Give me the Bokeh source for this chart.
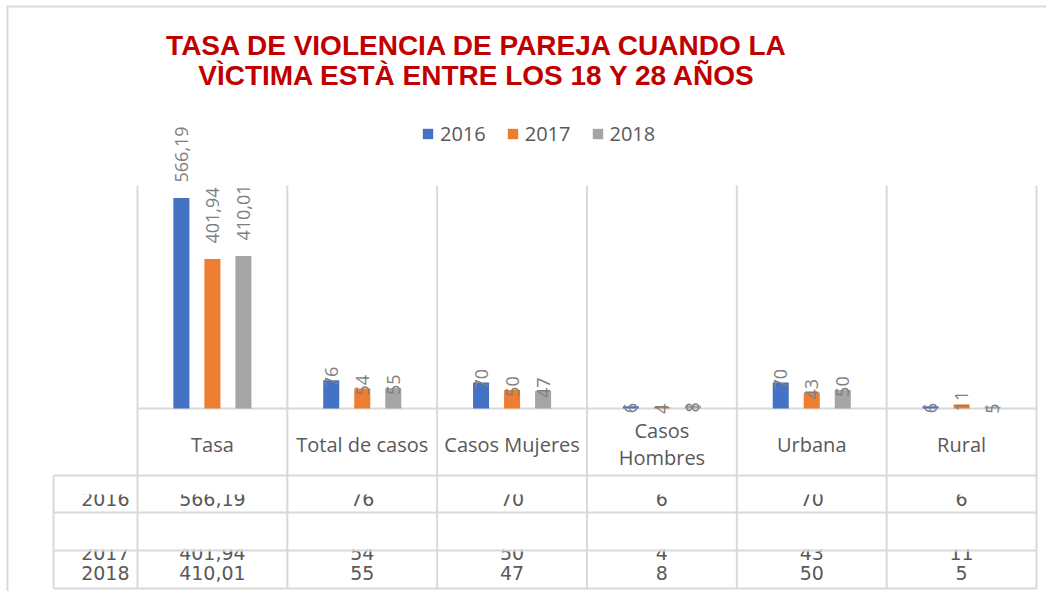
import numpy as np
from bokeh.plotting import figure
from bokeh.models import Range1d, ColumnDataSource, Legend, LegendItem
from bokeh.core.properties import value
from bokeh.embed import file_html
from bokeh.resources import INLINE

# ---------------- data ----------------
title_lines = ["TASA DE VIOLENCIA DE PAREJA CUANDO LA",
               "VÌCTIMA ESTÀ ENTRE LOS 18 Y 28 AÑOS"]
categories = ["Tasa", "Total de casos", "Casos Mujeres", "Casos Hombres", "Urbana", "Rural"]
tick_labels = ["Tasa", "Total de casos", "Casos Mujeres", "Casos\nHombres", "Urbana", "Rural"]
years = ["2016", "2017", "2018"]
v2016 = [566.19, 76, 70, 6, 70, 6]
v2017 = [401.94, 54, 50, 4, 43, 11]
v2018 = [410.01, 55, 47, 8, 50, 5]
series = [v2016, v2017, v2018]
colors = ["#4472C4", "#ED7D31", "#A5A5A5"]
y_max = 600


def fmt(v):
    if float(v) == int(v):
        return str(int(v))
    return f"{v:.2f}".replace(".", ",")


# ---------------- layout (page pixels) ----------------
M = 0
W, H = 1046, 591
plot_left, plot_right, plot_top, base = 137, 1036, 185, 408
table_left = 53
row_lines = [475, 512, 550, 588]
n = len(categories)
CW = (plot_right - plot_left) / n
s = (base - plot_top) / y_max


def fx(px):
    return (px - plot_left) / CW


def fy(py):
    return (base - py) / s


GRID = "#D9D9D9"
TXT = "#595959"

p = figure(width=W, height=H, x_range=Range1d(fx(M), fx(M + W)),
           y_range=Range1d(fy(M + H), fy(M)), output_backend="svg",
           toolbar_location=None, x_axis_location=None, y_axis_location=None,
           min_border=0)
p.grid.visible = False
p.outline_line_color = None
p.background_fill_color = "white"
p.border_fill_color = "white"

centers = np.arange(n) + 0.5

# ---------------- title ----------------
p.text(x=[fx(477)] * 2, y=[fy(45), fy(74.5)], text=title_lines,
       text_font=value("Liberation Sans"), text_font_style="bold",
       text_font_size="28px", text_color="#C00000",
       text_align="center", text_baseline="middle")

# ---------------- category labels ----------------
p.text(x=centers, y=[fy(443.5)] * n, text=tick_labels,
       text_font=value("Open Sans"), text_font_size="20px", text_color=TXT,
       text_align="center", text_baseline="middle", text_line_height=1.0)

# ---------------- data table ----------------
row_mid = [498, 552, 572]
tab_font = value("DejaVu Sans")
for yr, vals, rm in zip(years, series, row_mid):
    p.text(x=[fx(129)], y=[fy(rm)], text=[yr], text_font=tab_font,
           text_font_size="19px", text_color=TXT, text_align="right",
           text_baseline="middle")
    p.text(x=centers, y=[fy(rm)] * n, text=[fmt(v) for v in vals],
           text_font=tab_font, text_font_size="19px", text_color=TXT,
           text_align="center", text_baseline="middle")

# clipping of the table rows (as in the reference rendering)
p.quad(left=[fx(table_left + 1)] * 2, right=[n] * 2,
       top=[fy(476), fy(513)], bottom=[fy(494), fy(549)],
       fill_color="white", line_color=None)

# ---------------- grid / table lines ----------------
p.segment(x0=list(range(n + 1)), x1=list(range(n + 1)),
          y0=[y_max] * (n + 1), y1=[fy(row_lines[-1])] * (n + 1),
          line_color=GRID, line_width=2)
p.segment(x0=[fx(table_left)], x1=[fx(table_left)], y0=[fy(row_lines[0])],
          y1=[fy(row_lines[-1])], line_color=GRID, line_width=2)
p.segment(x0=[0] + [fx(table_left)] * len(row_lines), x1=[n] * (len(row_lines) + 1),
          y0=[0] + [fy(r) for r in row_lines], y1=[0] + [fy(r) for r in row_lines],
          line_color=GRID, line_width=2)
# chart border (top & left)
p.segment(x0=[fx(6), fx(7)], x1=[fx(M + W), fx(7)],
          y0=[fy(6), fy(6)], y1=[fy(6), fy(M + H)],
          line_color=GRID, line_width=2)

# ---------------- bars ----------------
offsets = [-0.207, 0.0, 0.207]
bar_w = 0.107
items = []
for yr, vals, col, off in zip(years, series, colors, offsets):
    vals = np.array(vals, dtype=float)
    src = ColumnDataSource(dict(x=centers + off, top=vals,
                                lab=[fmt(v) for v in vals],
                                ly=vals + np.where(vals >= 100, 15.6, -7.0) / s))
    r = p.vbar(x="x", top="top", width=bar_w, source=src, fill_color=col,
               line_color=None)
    p.text(x="x", y="ly", text="lab", source=src, angle=np.pi / 2,
           text_font=value("Open Sans"), text_font_size="18px",
           text_color="#7F7F7F", text_align="left", text_baseline="middle")
    items.append(LegendItem(label=yr, renderers=[r]))

legend = Legend(items=items, orientation="horizontal", location=(421, 444),
                glyph_width=13, glyph_height=13, label_standoff=6, spacing=20,
                padding=0, margin=0, border_line_color=None,
                background_fill_alpha=0, label_text_font="Open Sans",
                label_text_font_size="20px", label_text_color=TXT)
p.add_layout(legend)

open("out.html", "w").write(file_html(p, INLINE))
